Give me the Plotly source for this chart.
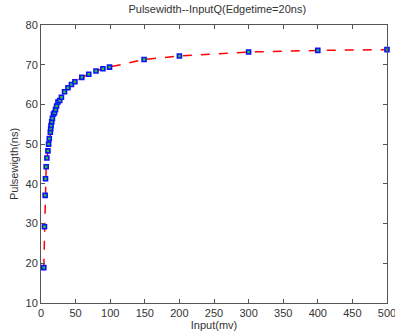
import plotly.graph_objects as go

input_mv = [4, 5, 6, 6.5, 7.5, 8.5, 10, 11, 12, 13.5, 14, 14.5, 15.5, 16.5, 18, 19.5,
            21, 22.5, 24.5, 27, 29.5, 34, 39, 44, 49, 59, 69, 79.5, 89.5, 99, 149, 200,
            300, 400, 500]
pulsewidth = [18.9, 29.2, 37.1, 41.3, 44.3, 46.5, 48.3, 50.0, 51.4, 53.0, 53.9, 54.7,
              55.6, 56.5, 57.6, 57.9, 58.7, 59.6, 60.6, 61.0, 61.8, 63.2, 64.2, 65.0,
              65.7, 66.8, 67.6, 68.4, 69.0, 69.4, 71.3, 72.2, 73.2, 73.6, 73.8]

x_ticks = [0, 50, 100, 150, 200, 250, 300, 350, 400, 450, 500]
y_ticks = [10, 20, 30, 40, 50, 60, 70, 80]

fig = go.Figure()
fig.add_trace(go.Scatter(
    x=input_mv, y=pulsewidth, mode="lines+markers",
    line=dict(color="#ff0000", width=1.5, dash="dash"),
    marker=dict(symbol="square", size=4, color="#22cc22",
                line=dict(color="#1010ff", width=1.6)),
    showlegend=False, cliponaxis=False,
))

font = dict(family="Liberation Sans, Arial", size=11, color="#333333")
axis_common = dict(showgrid=False, zeroline=False, showline=True, linecolor="#555555",
                   linewidth=1, mirror="allticks", ticks="inside", ticklen=4,
                   tickcolor="#555555", tickfont=font, automargin=False,
                   ticklabeloverflow="allow")

fig.update_xaxes(range=[0, 500], tickvals=x_ticks,
                 title=dict(text="Input(mv)", font=font, standoff=0),
                 **axis_common)
fig.update_yaxes(range=[10, 80], tickvals=y_ticks,
                 title=dict(text="Pulsewigth(ns)", font=font, standoff=4),
                 **axis_common)

fig.update_layout(
    width=395, height=331,
    margin=dict(l=41, r=8, t=25, b=28),
    paper_bgcolor="white", plot_bgcolor="white",
    title=dict(text="Pulsewidth--InputQ(Edgetime=20ns)", x=0.55, xanchor="center",
               y=0.985, yanchor="top", font=font),
)

fig.write_html("out.html")
